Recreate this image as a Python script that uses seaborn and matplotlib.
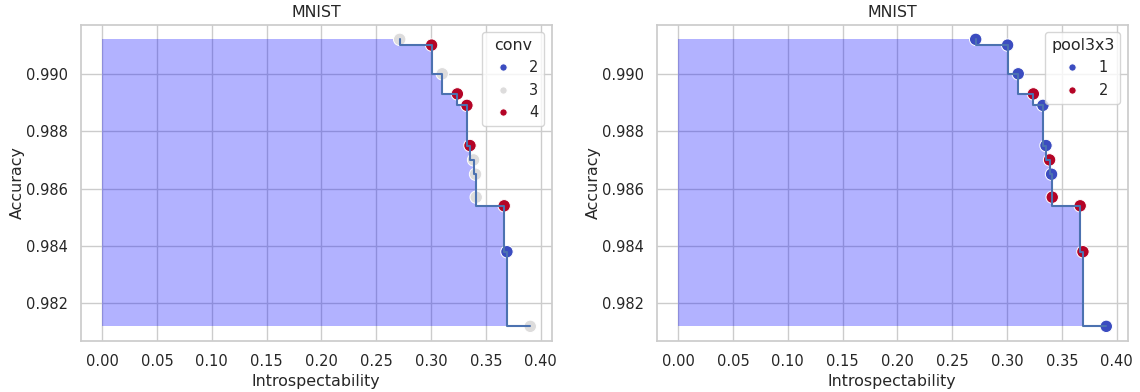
import matplotlib
matplotlib.use("Agg")
import matplotlib.pyplot as plt
import numpy as np
import pandas as pd
import seaborn as sns

# Candidate models: introspectability vs. accuracy on MNIST
introspectability = [0.2714, 0.3005, 0.3102, 0.3240, 0.3327, 0.3355,
                     0.3388, 0.3406, 0.3412, 0.3667, 0.3692, 0.3905]
accuracy = [0.9912, 0.9910, 0.9900, 0.9893, 0.9889, 0.9875,
            0.9870, 0.9865, 0.9857, 0.9854, 0.9838, 0.9812]
conv = [3, 4, 3, 4, 4, 4, 3, 3, 3, 4, 2, 3]
pool3x3 = [1, 1, 1, 2, 1, 1, 2, 1, 2, 2, 2, 1]

df = pd.DataFrame({
    "Introspectability": introspectability,
    "Accuracy": accuracy,
    "conv": conv,
    "pool3x3": pool3x3,
})

sns.set_theme(style="whitegrid", font_scale=0.955)

fig, axes = plt.subplots(1, 2, figsize=(11.4, 3.92), dpi=100)
fig.subplots_adjust(left=0.0708, right=0.9892, top=0.9362, bottom=0.1309,
                    wspace=0.223)

# Pareto front: sorted by introspectability, drawn as a staircase
front = df.sort_values("Introspectability")
fx = np.concatenate([[0.0], front["Introspectability"].to_numpy()])
fy = np.concatenate([[front["Accuracy"].iloc[0]], front["Accuracy"].to_numpy()])
ymin = front["Accuracy"].min()

for ax, hue in zip(axes, ["conv", "pool3x3"]):
    ax.fill_between(fx, ymin, fy, step="pre", color="blue", alpha=0.3, linewidth=0)
    sns.scatterplot(data=df, x="Introspectability", y="Accuracy", hue=hue,
                    palette="coolwarm", s=80, ax=ax)
    ax.plot(front["Introspectability"], front["Accuracy"],
            drawstyle="steps-pre", color="C0")
    ax.set_title("MNIST")
    ax.set_ylabel("Accuracy", labelpad=0.5)
    leg = ax.legend(title=hue, loc="upper right")
    for h in leg.legend_handles:
        h.set_markersize(5.2)
        h.set_markeredgewidth(0.6)

fig.savefig("out.png")
